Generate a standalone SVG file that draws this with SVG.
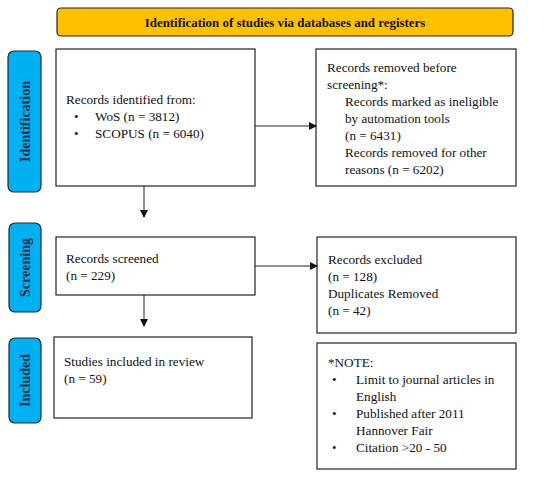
<svg xmlns="http://www.w3.org/2000/svg" width="550" height="478" viewBox="0 0 550 478">
<style>
.box{fill:#fff;stroke:#222;stroke-width:1.2}
.side{fill:#00B0F0;stroke:#1a2a3a;stroke-width:1.2}
.t{font-family:"Liberation Serif","DejaVu Serif",serif;font-size:13.2px;fill:#111}
.b{font-family:"Liberation Serif","DejaVu Serif",serif;font-size:13px;fill:#111}
.s{font-family:"Liberation Serif","DejaVu Serif",serif;font-size:14px;font-weight:bold;fill:#1F2F4F}
.h{font-family:"Liberation Serif","DejaVu Serif",serif;font-size:12.9px;font-weight:bold;fill:#111}
.c{stroke:#222;stroke-width:1;fill:none;marker-end:url(#ah)}
</style>
<defs>
<marker id="ah" markerWidth="8" markerHeight="8" refX="7" refY="4" orient="auto" markerUnits="userSpaceOnUse">
<path d="M0,0 L8,4 L0,8 Z" fill="#111"/>
</marker>
</defs>
<rect width="550" height="478" fill="#fff"/>
<g id="header">
<rect x="57" y="8" width="456" height="28" rx="4" fill="#FFC000" stroke="#222" stroke-width="1.2"/>
<text x="285" y="26.5" text-anchor="middle" class="h">Identification of studies via databases and registers</text>
</g>
<g id="label-identification">
<rect class="side" x="8" y="51" width="33" height="141" rx="6"/>
<text class="s" transform="translate(29.5,121.5) rotate(-90)" text-anchor="middle">Identification</text>
</g>
<g id="label-screening">
<rect class="side" x="9" y="223" width="32" height="89" rx="6"/>
<text class="s" transform="translate(30,267.5) rotate(-90)" text-anchor="middle">Screening</text>
</g>
<g id="label-included">
<rect class="side" x="9" y="338" width="32" height="85" rx="6"/>
<text class="s" transform="translate(30,380.5) rotate(-90)" text-anchor="middle">Included</text>
</g>
<g id="identified">
<rect class="box" x="56" y="49" width="199" height="137"/>
<text class="t" x="66" y="104">Records identified from:</text>
<text class="b" x="74" y="121">•</text>
<text class="t" x="95" y="121">WoS (n = 3812)</text>
<text class="b" x="74" y="138">•</text>
<text class="t" x="95" y="138">SCOPUS (n = 6040)</text>
</g>
<g id="removed">
<rect class="box" x="316" y="49" width="200" height="137"/>
<text class="t" x="327" y="72">Records removed before</text>
<text class="t" x="327" y="89">screening*:</text>
<text class="t" x="345" y="106">Records marked as ineligible</text>
<text class="t" x="345" y="123">by automation tools</text>
<text class="t" x="345" y="140">(n = 6431)</text>
<text class="t" x="345" y="157">Records removed for other</text>
<text class="t" x="345" y="174">reasons (n = 6202)</text>
</g>
<g id="screened">
<rect class="box" x="56" y="237" width="199" height="58"/>
<text class="t" x="66" y="263">Records screened</text>
<text class="t" x="66" y="280">(n = 229)</text>
</g>
<g id="excluded">
<rect class="box" x="317" y="237" width="199" height="96"/>
<text class="t" x="328" y="264">Records excluded</text>
<text class="t" x="328" y="281">(n = 128)</text>
<text class="t" x="328" y="298">Duplicates Removed</text>
<text class="t" x="328" y="315">(n = 42)</text>
</g>
<g id="included">
<rect class="box" x="54" y="337" width="198" height="81"/>
<text class="t" x="64" y="366">Studies included in review</text>
<text class="t" x="64" y="383">(n = 59)</text>
</g>
<g id="note">
<rect class="box" x="317" y="343" width="199" height="126"/>
<text class="t" x="328" y="367">*NOTE:</text>
<text class="b" x="332" y="384">•</text>
<text class="t" x="356" y="384">Limit to journal articles in</text>
<text class="t" x="356" y="401">English</text>
<text class="b" x="332" y="418">•</text>
<text class="t" x="356" y="418">Published after 2011</text>
<text class="t" x="356" y="435">Hannover Fair</text>
<text class="b" x="332" y="452">•</text>
<text class="t" x="356" y="452">Citation &gt;20 - 50</text>
</g>
<g id="connectors">
<line class="c" x1="255" y1="126" x2="316" y2="126"/>
<line class="c" x1="144" y1="186" x2="144" y2="217"/>
<line class="c" x1="255" y1="266" x2="317" y2="266"/>
<line class="c" x1="144" y1="295" x2="144" y2="326"/>
</g>
</svg>
